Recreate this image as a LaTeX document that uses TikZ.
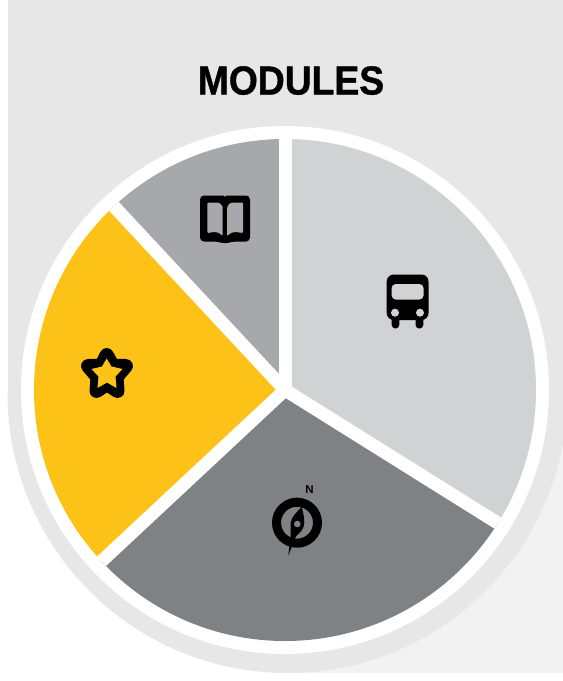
\documentclass[tikz,border=0pt]{standalone}
\usepackage{fontspec}
\setmainfont{Liberation Sans}
\newfontfamily\titlefont[FakeStretch=0.92,FakeBold=0.9]{Liberation Sans Bold}
\definecolor{panel}{HTML}{E7E7E8}
\definecolor{panelb}{HTML}{F2F2F2}
\definecolor{lightg}{HTML}{D1D2D4}
\definecolor{midg}{HTML}{A7A8AC}
\definecolor{darkg}{HTML}{7F8285}
\definecolor{amber}{HTML}{FDC218}
\tikzset{icon/.style={fill=black,draw=none},
  gap/.style={draw=white,line width=13pt}}
\begin{document}
\begin{tikzpicture}[x=1pt,y=-1pt]
\useasboundingbox (0,0) rectangle (563,681);
\fill[white] (0,0) rectangle (563,681);
% background
\fill[panelb] (287.5,393) rectangle (563,673);
\begin{scope}
\clip (0,393) rectangle (563,681);
\fill[panel] (287.5,393) circle[radius=280];
\end{scope}
\fill[panel] (7.5,0) rectangle (563,393.5);
% pie
\fill[white] (285,390) circle[radius=264];
\begin{scope}
\clip (285,390) circle[radius=251];
\coordinate (c) at (285,390);
\fill[lightg] (c) -- (285,100) -- (600,100) -- (600,587) -- cycle;
\fill[darkg] (c) -- (600,587) -- (600,681) -- (0,681) -- (0,656) -- cycle;
\fill[amber] (c) -- (0,656) -- (0,84) -- cycle;
\fill[midg] (c) -- (0,84) -- (0,100) -- (285,100) -- cycle;
\draw[gap] (c) -- (285,100);
\draw[gap] (c) -- (600,587);
\draw[gap] (c) -- (0,656);
\draw[gap] (c) -- (0,84);
\end{scope}
\node[font=\titlefont\fontsize{40.5}{42}\selectfont,anchor=base,inner sep=0pt] (title) at (291,94.5) {MODULES};
% book
\fill[icon,rounded corners=4pt]
 (200,195.5) -- (219,195.5) .. controls (222,195.5) and (224,197) .. (225,199) .. controls (226,197) and (228,195.5) .. (231,195.5) -- (250,195.5) -- (250,241.5) -- (232,241.5) -- (225,244) -- (218,241.5) -- (200,241.5) -- cycle;
\fill[midg,rounded corners=1pt] (207.3,202.5) -- (216,202.5) .. controls (219,202.5) and (221.5,204) .. (222.7,207) -- (222.7,236) .. controls (220,233) and (217,232) .. (214,232) -- (207.3,233) -- cycle;
\fill[midg,rounded corners=1pt] (243,202.5) -- (234,202.5) .. controls (231,202.5) and (228.5,204) .. (227.2,207) -- (227.2,236) .. controls (230,233) and (233,232) .. (236,232) -- (243,233) -- cycle;
% bus
\fill[icon,rounded corners=7pt] (386.7,274.5) rectangle (428.5,320);
\fill[icon,rounded corners=3.7pt] (391.7,312) rectangle (399.3,328.5);
\fill[icon,rounded corners=3.7pt] (415.5,312) rectangle (423.3,328.5);
\fill[lightg,rounded corners=4pt] (391.7,284) rectangle (423.5,299.5);
\fill[lightg] (395,312.7) circle[radius=4];
\fill[lightg] (420,312.7) circle[radius=4];
% star
\filldraw[black,line width=14pt,line join=round]
 (106.7,355) -- (112.9,365.9) -- (126,366) -- (116.5,377.1) -- (117.5,391) -- (107,384) -- (96.5,391) -- (97.5,377.1) -- (88,366) -- (101.1,365.9) -- cycle;
\fill[amber]
 (106.7,358.5) -- (111.5,366.5) -- (122.5,369) -- (115.5,376.5) -- (116.5,388) -- (107,382.5) -- (97.5,388) -- (98.5,376.5) -- (91.5,369) -- (102,366.5) -- cycle;
% compass
\draw[line width=9pt] (297,522.7) circle[radius=20.5];
\fill[icon] (301.7,506.7) .. controls (303,512) and (304.5,518) .. (304.3,523) .. controls (304,529) and (300,533) .. (296,536) -- (288.3,555.7) -- (290.5,537) -- (290.7,523) .. controls (291,517) and (297,512) .. (301.7,506.7) -- cycle;
\fill[darkg] (297.3,524) circle[radius=3.3];
\node[font=\bfseries\fontsize{11.5}{12}\selectfont,inner sep=0pt] (north) at (309.5,489.5) {N};
\end{tikzpicture}
\end{document}
